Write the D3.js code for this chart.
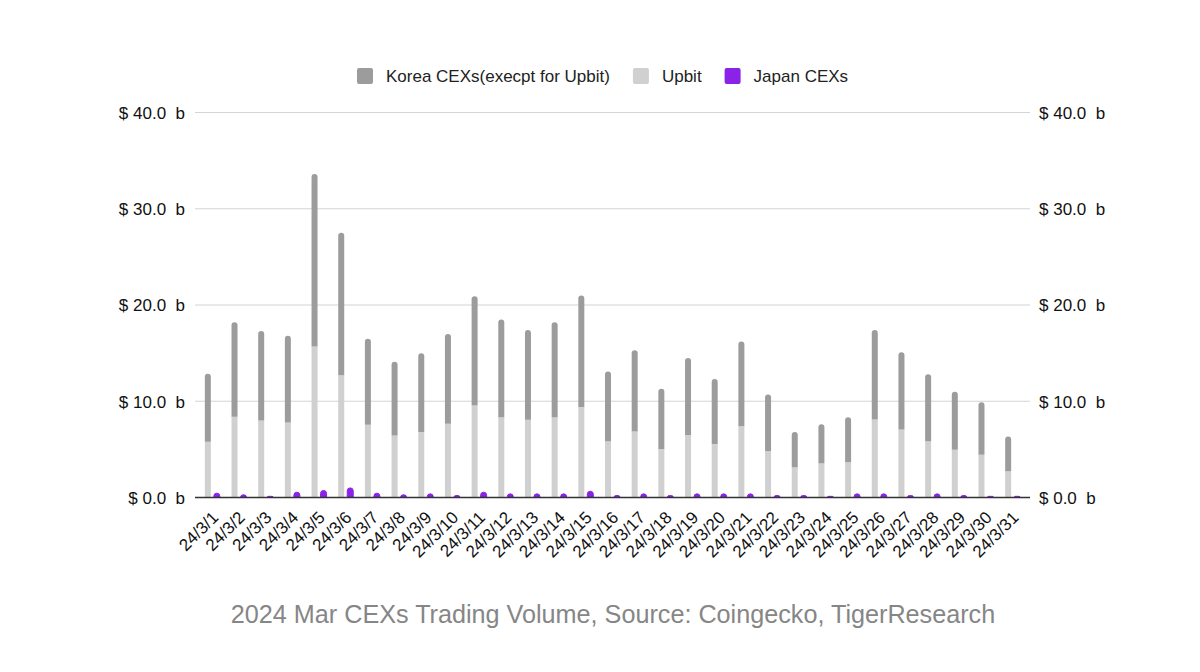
<!DOCTYPE html>
<html>
<head>
<meta charset="utf-8">
<script src="https://cdn.jsdelivr.net/npm/d3@7"></script>
<style>
  html, body { margin: 0; padding: 0; background: #fff; }
  svg { display: block; }
  text { font-family: "Liberation Sans", Arial, Helvetica, sans-serif; }
</style>
</head>
<body>
<svg id="chart" width="1200" height="672"></svg>
<script>
// ---- data (billions USD) ----
const categories = ["24/3/1","24/3/2","24/3/3","24/3/4","24/3/5","24/3/6","24/3/7","24/3/8","24/3/9","24/3/10",
  "24/3/11","24/3/12","24/3/13","24/3/14","24/3/15","24/3/16","24/3/17","24/3/18","24/3/19","24/3/20",
  "24/3/21","24/3/22","24/3/23","24/3/24","24/3/25","24/3/26","24/3/27","24/3/28","24/3/29","24/3/30","24/3/31"];
const upbit = [5.8, 8.4, 8.0, 7.8, 15.7, 12.7, 7.55, 6.45, 6.8, 7.65,
  9.55, 8.35, 8.07, 8.35, 9.4, 5.85, 6.85, 5.05, 6.5, 5.55,
  7.4, 4.8, 3.15, 3.57, 3.67, 8.1, 7.07, 5.85, 4.95, 4.43, 2.73];
const koreaExUpbit = [7.05, 9.8, 9.3, 9.0, 17.9, 14.8, 8.95, 7.65, 8.2, 9.35,
  11.35, 10.15, 9.33, 9.85, 11.6, 7.25, 8.45, 6.25, 8.0, 6.75,
  8.8, 5.9, 3.65, 4.03, 4.68, 9.3, 8.03, 6.95, 6.05, 5.47, 3.61];
const japan = [0.45, 0.28, 0.12, 0.55, 0.73, 1.0, 0.45, 0.28, 0.38, 0.2,
  0.55, 0.38, 0.38, 0.38, 0.65, 0.2, 0.38, 0.2, 0.38, 0.38,
  0.38, 0.2, 0.2, 0.12, 0.38, 0.38, 0.2, 0.38, 0.2, 0.12, 0.12];
const yTicks = [0, 10, 20, 30, 40];
const seriesNames = ["Korea CEXs(execpt for Upbit)", "Upbit", "Japan CEXs"];
const seriesColors = ["#9c9c9c", "#d0d0d0", "#8a22e8"];
const caption = "2024 Mar CEXs Trading Volume, Source: Coingecko, TigerResearch";

// ---- layout ----
const svg = d3.select("#chart");
const plotLeft = 199, plotRight = 1026;
const x = d3.scaleBand().domain(categories).range([plotLeft, plotRight]).paddingInner(0).paddingOuter(0);
const y = d3.scaleLinear().domain([0, 40]).range([497.5, 112.5]);
const gridX0 = 195, gridX1 = 1030;
const barW = 6, offset = 4.5;
const FS = 17;

// gridlines
svg.append("g").selectAll("line").data(yTicks.filter(t => t > 0)).join("line")
  .attr("x1", gridX0).attr("x2", gridX1)
  .attr("y1", d => y(d)).attr("y2", d => y(d))
  .attr("stroke", "#d4d4d4").attr("stroke-width", 1.2);

// axes labels
const fmt = d => "$ " + d3.format(".1f")(d) + "  b";
const leftAxis = d3.axisLeft(y).tickValues(yTicks).tickSize(0).tickPadding(0).tickFormat(fmt);
const gl = svg.append("g").attr("transform", `translate(185,0)`).call(leftAxis);
gl.select(".domain").remove();
gl.selectAll("text").attr("font-size", FS).attr("fill", "#111").style("white-space", "pre")
  .attr("font-family", "'Liberation Sans', Arial, sans-serif").attr("dy", "0.35em");

const rightAxis = d3.axisRight(y).tickValues(yTicks).tickSize(0).tickPadding(0).tickFormat(fmt);
const gr = svg.append("g").attr("transform", `translate(1039,0)`).call(rightAxis);
gr.select(".domain").remove();
gr.selectAll("text").attr("font-size", FS).attr("fill", "#111").style("white-space", "pre")
  .attr("font-family", "'Liberation Sans', Arial, sans-serif").attr("dy", "0.35em");

// rounded-top bar path
function topRounded(x0, yTop, w, yBot, r) {
  const h = yBot - yTop;
  const rr = Math.min(r, w / 2, Math.max(h, 0));
  return `M${x0},${yBot} L${x0},${yTop + rr} Q${x0},${yTop} ${x0 + rr},${yTop} L${x0 + w - rr},${yTop} Q${x0 + w},${yTop} ${x0 + w},${yTop + rr} L${x0 + w},${yBot} Z`;
}
const cx = d => x(d) + x.bandwidth() / 2;

const bars = svg.append("g");
// Upbit (bottom of stack)
bars.selectAll("rect.upbit").data(categories).join("rect").attr("class", "upbit")
  .attr("x", d => cx(d) - offset - barW / 2)
  .attr("y", (d, i) => y(upbit[i]))
  .attr("width", barW)
  .attr("height", (d, i) => y(0) - y(upbit[i]))
  .attr("fill", seriesColors[1]);
// Korea ex Upbit (stacked on top)
bars.selectAll("path.korea").data(categories).join("path").attr("class", "korea")
  .attr("d", (d, i) => topRounded(cx(d) - offset - barW / 2, y(upbit[i] + koreaExUpbit[i]), barW, y(upbit[i]), 3))
  .attr("fill", seriesColors[0]);
// Japan
bars.selectAll("path.japan").data(categories).join("path").attr("class", "japan")
  .attr("d", (d, i) => topRounded(cx(d) + offset - barW / 2, y(japan[i]), barW, y(0), 3))
  .attr("fill", seriesColors[2]).attr("stroke", seriesColors[2]).attr("stroke-width", 1).attr("stroke-linejoin", "round");

// baseline
svg.append("line").attr("x1", gridX0).attr("x2", gridX1).attr("y1", y(0)).attr("y2", y(0))
  .attr("stroke", "#333").attr("stroke-width", 1.5);

// x labels
const xAxis = d3.axisBottom(x).tickSize(0).tickPadding(0);
const gx = svg.append("g").attr("transform", `translate(0,${y(0)})`).call(xAxis);
gx.select(".domain").remove();
gx.selectAll("text")
  .attr("font-size", FS).attr("fill", "#111")
  .attr("font-family", "'Liberation Sans', Arial, sans-serif")
  .attr("text-anchor", "end")
  .attr("dy", null).attr("y", 0)
  .attr("transform", "translate(7,21) rotate(-45)");

// legend
const legend = svg.append("g");
let lx = 357;
seriesNames.forEach((name, i) => {
  legend.append("rect").attr("x", lx).attr("y", 68).attr("width", 16).attr("height", 16)
    .attr("rx", 2).attr("fill", seriesColors[i]);
  const t = legend.append("text").attr("x", lx + 29).attr("y", 76).attr("dy", "0.35em")
    .attr("font-size", FS).attr("fill", "#222").text(name);
  lx += 29 + t.node().getComputedTextLength() + 23;
});

// caption
svg.append("text").attr("x", 613).attr("y", 623).attr("text-anchor", "middle")
  .attr("font-family", "Roboto, 'Liberation Sans', sans-serif")
  .attr("font-size", 25.2).attr("fill", "#868686").text(caption);
</script>
</body>
</html>
